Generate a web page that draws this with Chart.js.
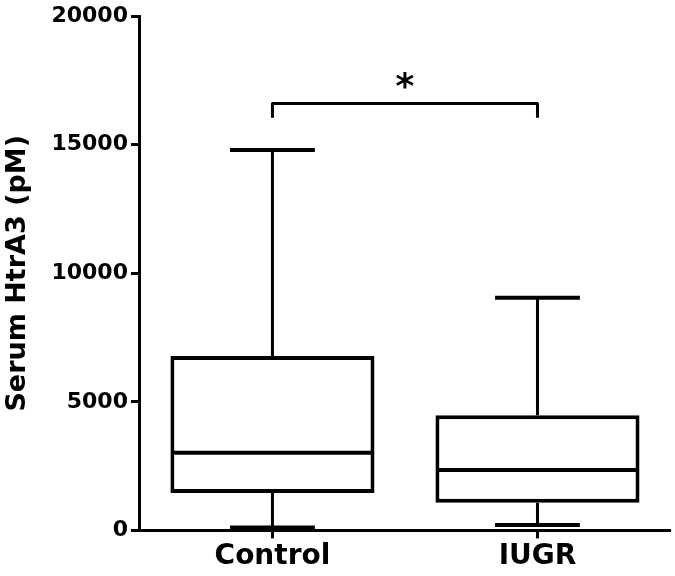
<!DOCTYPE html>
<html>
<head>
<meta charset="utf-8">
<script src="https://cdn.jsdelivr.net/npm/chart.js"></script>
<style>
  html, body { margin: 0; padding: 0; background: #fff; }
  #wrap { width: 675px; height: 576px; }
</style>
</head>
<body>
<div id="wrap"><canvas id="boxChart"></canvas></div>
<script>
// box plot values (pM)
const categories = ['Control', 'IUGR'];
const minVals = [110, 210];
const q1Vals = [1450, 1080];
const medianVals = [3020, 2350];
const q3Vals = [6780, 4480];
const maxVals = [14800, 9050];
const yTicks = [0, 5000, 10000, 15000, 20000];

// significance bracket between the two groups
const sigPair = [0, 1];
const sigLevel = 16600;
const sigDrop = 16050;
const sigLabel = '*';

const FONT = '"DejaVu Sans", sans-serif';

// draws whiskers, caps, medians and the bracket on top of the floating bars
const boxExtras = {
    id: 'boxExtras',
    afterDatasetsDraw(chart) {
        const ctx = chart.ctx;
        const x = chart.scales.x;
        const y = chart.scales.y;
        const half = x.width / categories.length / 2;
        const capHalf = half * 0.32;
        const boxHalf = half * 0.77;
        ctx.save();
        ctx.strokeStyle = '#000';
        ctx.lineCap = 'butt';
        categories.forEach((c, i) => {
            const cx = x.getPixelForValue(i);
            // whiskers
            ctx.lineWidth = 3;
            ctx.beginPath();
            ctx.moveTo(cx, y.getPixelForValue(q3Vals[i]));
            ctx.lineTo(cx, y.getPixelForValue(maxVals[i]));
            ctx.moveTo(cx, y.getPixelForValue(q1Vals[i]));
            ctx.lineTo(cx, y.getPixelForValue(minVals[i]));
            ctx.stroke();
            // caps
            ctx.lineWidth = 4;
            ctx.beginPath();
            [maxVals[i], minVals[i]].forEach(v => {
                const py = y.getPixelForValue(v);
                ctx.moveTo(cx - capHalf, py);
                ctx.lineTo(cx + capHalf, py);
            });
            ctx.stroke();
            // median
            ctx.lineWidth = 4;
            ctx.beginPath();
            const my = y.getPixelForValue(medianVals[i]);
            ctx.moveTo(cx - boxHalf + 2, my);
            ctx.lineTo(cx + boxHalf - 2, my);
            ctx.stroke();
        });
        // bracket
        const x1 = x.getPixelForValue(sigPair[0]);
        const x2 = x.getPixelForValue(sigPair[1]);
        const by = y.getPixelForValue(sigLevel);
        const bd = y.getPixelForValue(sigDrop);
        ctx.lineWidth = 3;
        ctx.lineJoin = 'round';
        ctx.beginPath();
        ctx.moveTo(x1, bd);
        ctx.lineTo(x1, by);
        ctx.lineTo(x2, by);
        ctx.lineTo(x2, bd);
        ctx.stroke();
        ctx.fillStyle = '#000';
        ctx.font = 'bold 36px ' + FONT;
        ctx.textAlign = 'center';
        ctx.textBaseline = 'alphabetic';
        ctx.fillText(sigLabel, (x1 + x2) / 2, by - 6);
        ctx.restore();
    }
};

const data = {
    labels: categories,
    datasets: [{
        data: q1Vals.map((q, i) => [q, q3Vals[i]]),
        backgroundColor: '#fff',
        borderColor: '#000',
        borderWidth: 4,
        borderSkipped: false,
        barPercentage: 0.77,
        categoryPercentage: 1
    }]
};

const config = {
    type: 'bar',
    data: data,
    plugins: [boxExtras],
    options: {
        responsive: true,
        maintainAspectRatio: false,
        animation: false,
        layout: { padding: { top: 0, right: 5, left: 0, bottom: 0 } },
        plugins: {
            legend: { display: false },
            tooltip: { enabled: false }
        },
        scales: {
            x: {
                grid: { offset: false, drawOnChartArea: false, drawTicks: true, tickLength: 8, tickWidth: 3, color: '#000' },
                border: { display: true, width: 3, color: '#000' },
                ticks: { color: '#000', padding: 2, font: { family: FONT, size: 28, weight: 'bold' } }
            },
            y: {
                min: 0,
                max: 20000,
                afterBuildTicks: axis => { axis.ticks = yTicks.map(v => ({ value: v })); },
                grid: { drawOnChartArea: false, drawTicks: true, tickLength: 9, tickWidth: 3, color: '#000' },
                border: { display: true, width: 3, color: '#000' },
                ticks: {
                    color: '#000',
                    padding: 3,
                    font: { family: FONT, size: 22, weight: 'bold' },
                    callback: v => String(v)
                },
                title: {
                    display: true,
                    text: 'Serum HtrA3 (pM)',
                    color: '#000',
                    padding: { top: 2, bottom: 14 },
                    font: { family: FONT, size: 27, weight: 'bold' }
                }
            }
        }
    }
};

const initiateChart = () => {
    const ctx = document.getElementById('boxChart').getContext('2d');
    chart = new Chart(ctx, config);
};

document.addEventListener('DOMContentLoaded', initiateChart);
</script>
</body>
</html>
